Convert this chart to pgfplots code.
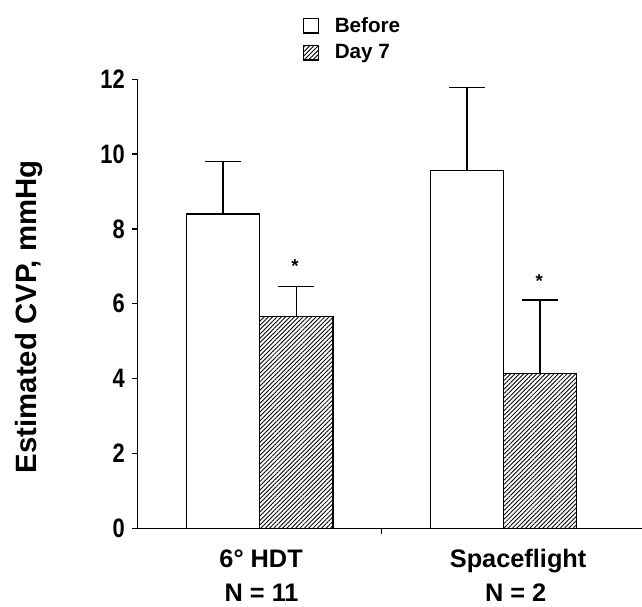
\documentclass[border=0pt]{standalone}
\usepackage{fontspec}
\setmainfont{Liberation Sans}
\usepackage{pgfplots}
\pgfplotsset{compat=1.18}
\usetikzlibrary{patterns,patterns.meta}

\pgfplotstableread{
x y err
0 8.40 1.40
1 9.56 2.23
}\before
\pgfplotstableread{
x y err
0 5.66 0.80
1 4.14 1.96
}\daysev

\pgfplotsset{sqlegend/.style={legend image code/.code={\draw[##1,line width=0.9pt] (0pt,-5.5pt) rectangle (11pt,5.5pt);}}}

\begin{document}
\begin{tikzpicture}
\begin{axis}[
  at={(0,0)}, anchor=south west,
  scale only axis, width=378.2pt, height=336.75pt,
  xmin=-0.5, xmax=1.568, ymin=0, ymax=12,
  axis x line=bottom, axis y line=left,
  axis line style={-, line width=1pt},
  ytick={0,2,...,12}, xtick={0.5}, xticklabels={},
  tick align=outside, major tick length=4pt,
  tick style={line width=1pt, black},
  /pgf/number format/assume math mode=true,
  yticklabel style={font=\bfseries\fontsize{20}{20}\selectfont, xscale=0.82, xshift=-3.5pt},
  ybar=0pt, bar width=0.3,
  clip=false,
  legend style={at={(axis description cs:0.327,1.145)}, anchor=north west,
    draw=none, fill=none, inner sep=0pt, row sep=3.8pt,
    font=\bfseries\fontsize{15.5}{15.5}\selectfont,
    /tikz/every odd column/.append style={column sep=10pt}},
  legend cell align=left,
  error bars/y dir=plus, error bars/y explicit,
  error bars/error bar style={line width=0.9pt, black},
  error bars/error mark options={rotate=90, line width=0.9pt, black, mark size=13.5pt},
]
\addplot[draw=black, fill=white, line width=1.1pt, sqlegend] table[x=x, y=y, y error=err] {\before};
\addlegendentry{Before}
\addplot[draw=black, pattern={Lines[angle=45,distance=2.3pt,line width=0.65pt]}, line width=1.1pt, sqlegend] table[x=x, y=y, y error=err] {\daysev};
\addlegendentry{Day 7}

\node[anchor=base, font=\bfseries\fontsize{14}{14}\selectfont] at (axis cs:0.145,6.83) {*};
\node[anchor=base, font=\bfseries\fontsize{14}{14}\selectfont] at (axis cs:1.147,6.43) {*};

\node[anchor=base, inner sep=0pt, font=\bfseries\fontsize{19}{19}\selectfont] at (axis cs:0.006,-1.05) {6° HDT};
\node[anchor=base, inner sep=0pt, font=\bfseries\fontsize{19}{19}\selectfont] at (axis cs:0.008,-1.95) {N = 11};
\node[anchor=base, inner sep=0pt, font=\bfseries\fontsize{19}{19}\selectfont] at (axis cs:1.06,-1.05) {Spaceflight};
\node[anchor=base, inner sep=0pt, font=\bfseries\fontsize{19}{19}\selectfont] at (axis cs:1.05,-1.95) {N = 2};

\node[rotate=90, anchor=base, font=\bfseries\fontsize{22}{22}\selectfont] at (axis description cs:-0.2017,0.471) {Estimated CVP, mmHg};
\end{axis}
\pgfresetboundingbox
\useasboundingbox (-103.3pt,-59pt) rectangle (378.2pt,396.2pt);
\end{tikzpicture}
\end{document}
